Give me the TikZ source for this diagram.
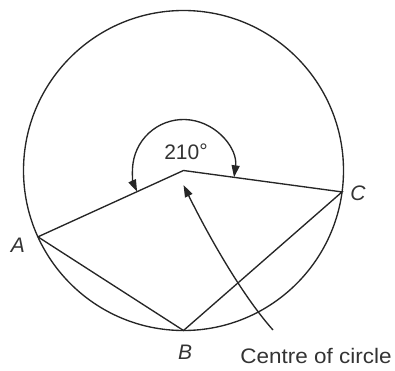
\documentclass[tikz,border=0pt]{standalone}
\usepackage{fontspec}
\setmainfont{Liberation Sans}
\usetikzlibrary{arrows.meta,calc}
\tikzset{
  geo/.style={line width=1.35pt, draw=black!85},
  lbl/.style={text=black!80, font=\fontsize{21}{25}\selectfont, inner sep=0pt},
  tipx/.style={-{Triangle[length=12pt,width=8pt]}},
}
\begin{document}
\begin{tikzpicture}[x=1pt,y=1pt]
\useasboundingbox (0,0) rectangle (395,370);
\coordinate (O) at (183.5,199.5);
\coordinate (A) at ($(O)+(204.5:160)$);
\coordinate (B) at ($(O)+(270:160)$);
\coordinate (C) at ($(O)+(-7.7:160)$);
\draw[geo] (O) circle[radius=160];
\draw[geo] (A) -- (O) -- (C) -- (B) -- (A);
\draw[geo,{Triangle[length=12pt,width=8pt]}-{Triangle[length=12pt,width=8pt]}]
  ($(O)+(-7.7:51)$) arc[start angle=-7.7, end angle=204.5, radius=51];
\node[lbl] (t210) at (186,218) {210\raisebox{1.5pt}{°}};
\coordinate (P) at (273,40);
\coordinate (T) at ($(O)+(0,-14.5)$);
\draw[geo,tipx] (P) .. controls (240,77) and (205,141) .. (T);
\node[lbl] (la) at (18,125) {\itshape A};
\node[lbl] (lb) at (185,18) {\itshape B};
\node[lbl] (lc) at (358,177) {\itshape C};
\node[lbl] (lcc) at (316,14) {\scalebox{1.07}[1]{Centre of circle}};
\end{tikzpicture}
\end{document}
